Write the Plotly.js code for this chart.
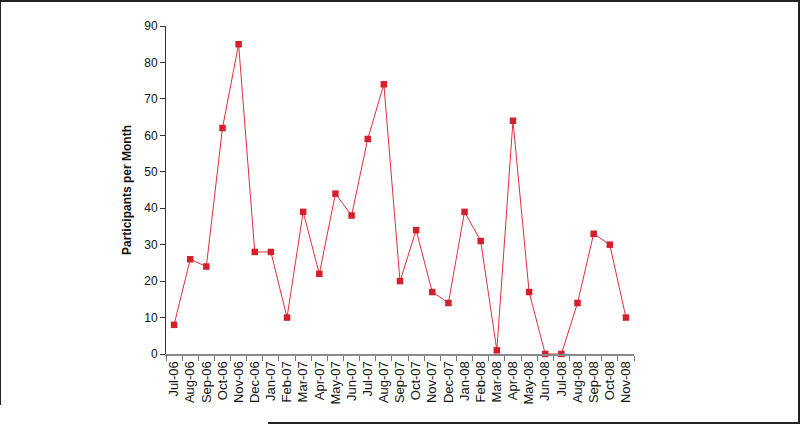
<!DOCTYPE html>
<html><head><meta charset="utf-8">
<script src="https://cdn.plot.ly/plotly-3.0.1.min.js"></script>
<style>
html,body{margin:0;padding:0;background:#fff;}
#wrap{position:relative;width:800px;height:424px;overflow:hidden;}
#chart{width:800px;height:424px;}
.b{position:absolute;background:#222;}
</style></head>
<body><div id="wrap"><div id="chart"></div>
<div class="b" style="left:0;top:0;width:800px;height:2px;"></div>
<div class="b" style="left:0;top:0;width:1px;height:405px;"></div>
<div class="b" style="right:0;top:0;width:2px;height:424px;"></div>
<div class="b" style="left:268px;top:422px;width:532px;height:2px;"></div>
</div>
<script>
const months = ["Jul-06","Aug-06","Sep-06","Oct-06","Nov-06","Dec-06","Jan-07","Feb-07","Mar-07","Apr-07","May-07","Jun-07","Jul-07","Aug-07","Sep-07","Oct-07","Nov-07","Dec-07","Jan-08","Feb-08","Mar-08","Apr-08","May-08","Jun-08","Jul-08","Aug-08","Sep-08","Oct-08","Nov-08"];
const participants = [8,26,24,62,85,28,28,10,39,22,44,38,59,74,20,34,17,14,39,31,1,64,17,0,0,14,33,30,10];
const yTicks = [0,10,20,30,40,50,60,70,80,90];

const trace = {
  x: months, y: participants, type: 'scatter', mode: 'lines+markers',
  line: {color: '#e0303a', width: 1},
  marker: {symbol: 'square', size: 6.5, color: '#d4202c'},
  cliponaxis: false, hoverinfo: 'skip'
};
const layout = {
  width: 800, height: 424,
  margin: {l: 166, r: 166, t: 26, b: 70},
  paper_bgcolor: '#fff', plot_bgcolor: '#fff',
  showlegend: false,
  font: {family: 'Arial, Liberation Sans, sans-serif', color: '#111', size: 12},
  xaxis: {
    type: 'category', range: [-0.5, 28.5], tickson: 'boundaries',
    ticks: 'outside', ticklen: 5, tickcolor: '#777', tickwidth: 1,
    showline: true, linecolor: '#888', linewidth: 2,
    showgrid: false, zeroline: false, tickangle: -90,
    tickfont: {size: 13, family: 'Arial, Liberation Sans, sans-serif', color: '#111'}
  },
  yaxis: {
    range: [0, 90], tickvals: yTicks, ticktext: yTicks.map(String),
    ticks: 'outside', ticklen: 5, tickcolor: '#333', tickwidth: 1,
    showline: true, linecolor: '#333', linewidth: 1,
    showgrid: false, zeroline: false,
    tickfont: {size: 12, family: 'Arial, Liberation Sans, sans-serif', color: '#111'},
    title: {text: 'Participants per Month', font: {size: 12, family: 'Arial, Liberation Sans, sans-serif', color: '#111', weight: 'bold'}, standoff: 10}
  }
};
Plotly.newPlot('chart', [trace], layout, {staticPlot: true, displayModeBar: false});
</script></body></html>
